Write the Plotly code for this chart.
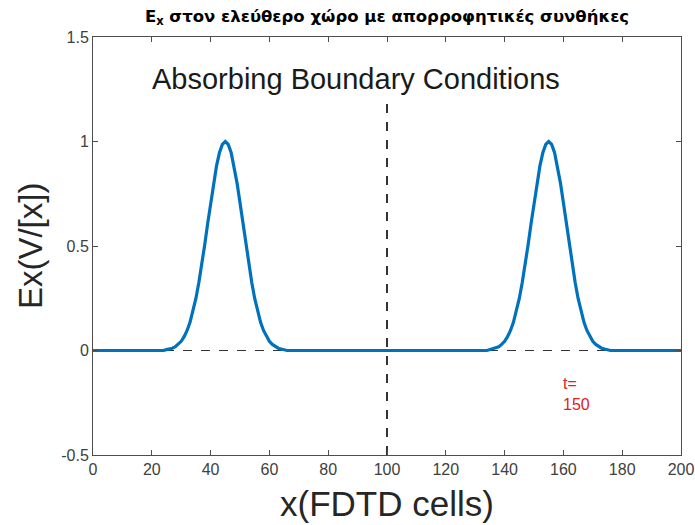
import plotly.graph_objects as go

# Ex field samples (cell index, amplitude) for the two travelling pulses
left_cells = list(range(25, 66))
right_cells = list(range(135, 176))
pulse_shape = [0.004, 0.007, 0.011, 0.018, 0.029, 0.044, 0.066, 0.096, 0.135, 0.186,
               0.249, 0.325, 0.411, 0.506, 0.607, 0.707, 0.801, 0.882, 0.946, 0.986,
               1.0,
               0.986, 0.946, 0.882, 0.801, 0.707, 0.607, 0.506, 0.411, 0.325, 0.249,
               0.186, 0.135, 0.096, 0.066, 0.044, 0.029, 0.018, 0.011, 0.007, 0.004]

cells = [0, 24] + left_cells + [66, 134] + right_cells + [176, 200]
ex = [0.0, 0.0] + pulse_shape + [0.0, 0.0] + pulse_shape + [0.0, 0.0]

x_ticks = list(range(0, 201, 20))
y_ticks = [-0.5, 0, 0.5, 1, 1.5]
y_tick_text = ["-0.5", "0", "0.5", "1", "1.5"]
source_cell = 100
time_step = 150

FONT = "Liberation Sans, Arial, sans-serif"
TITLE_FONT = "DejaVu Sans, Verdana, sans-serif"
AXIS_COLOR = "#4d4d4d"
LABEL_COLOR = "#262626"

fig = go.Figure()

# zero reference line
fig.add_trace(go.Scatter(x=[0, 200], y=[0, 0], mode="lines",
                         line=dict(color="#333333", width=1.2, dash="dash"),
                         hoverinfo="skip", showlegend=False))
# source location marker
fig.add_trace(go.Scatter(x=[source_cell, source_cell], y=[-0.5, 1.18], mode="lines",
                         line=dict(color="#333333", width=2, dash="dash"),
                         hoverinfo="skip", showlegend=False))
# field
fig.add_trace(go.Scatter(x=cells, y=ex, mode="lines",
                         line=dict(color="#0072BD", width=3.2),
                         showlegend=False))

fig.add_annotation(x=89.5, y=1.30, text="Absorbing Boundary Conditions", showarrow=False,
                   font=dict(family=FONT, size=29, color="#1a1a1a"),
                   xanchor="center", yanchor="middle")
fig.add_annotation(x=159.2, y=-0.21, text=f"t=<br>{time_step}", showarrow=False, align="left",
                   font=dict(family=FONT, size=16, color="#e02020"),
                   xanchor="left", yanchor="middle")

# axis titles
fig.add_annotation(x=0.5, y=-0.115, xref="paper", yref="paper", text="x(FDTD cells)",
                   showarrow=False, xanchor="center", yanchor="middle",
                   font=dict(family=FONT, size=35, color=LABEL_COLOR))
fig.add_annotation(x=-0.107, y=0.5, xref="paper", yref="paper", text="Ex(V/[x])",
                   showarrow=False, xanchor="center", yanchor="middle", textangle=-90,
                   font=dict(family=FONT, size=33, color=LABEL_COLOR))

fig.update_layout(
    width=695, height=525,
    margin=dict(l=93, r=14, t=37, b=70),
    paper_bgcolor="white", plot_bgcolor="white",
    title=dict(text="<b>E<sub>x</sub> στον ελεύθερο χώρο με απορροφητικές συνθήκες</b>",
               x=(93 + 588 / 2) / 695, xref="container", xanchor="center",
               y=1 - 16 / 525, yref="container", yanchor="middle",
               font=dict(family=TITLE_FONT, size=16.5, color="#000000")),
    xaxis=dict(range=[0, 200], tickvals=x_ticks, ticks="inside", ticklen=5,
               tickcolor=AXIS_COLOR, showline=True, linecolor=AXIS_COLOR, linewidth=1,
               mirror="ticks", showgrid=False, zeroline=False, automargin=False,
               tickfont=dict(family=FONT, size=16, color="#404040")),
    yaxis=dict(range=[-0.5, 1.5], tickvals=y_ticks, ticktext=y_tick_text, ticks="inside",
               ticklen=5, tickcolor=AXIS_COLOR, showline=True, linecolor=AXIS_COLOR,
               linewidth=1, mirror="ticks", showgrid=False, zeroline=False, automargin=False,
               tickfont=dict(family=FONT, size=16, color="#404040")),
)

fig.write_html("out.html")
